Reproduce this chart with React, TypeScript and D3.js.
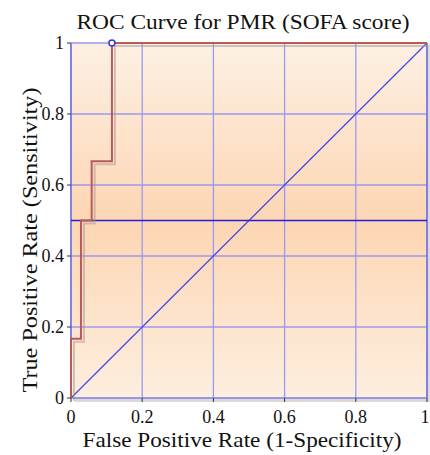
import React from "react";
import * as d3 from "d3";

// ROC curve points (false positive rate, true positive rate)
const fpr = [0, 0, 0.028, 0.028, 0.058, 0.058, 0.115, 0.115, 1];
const tpr = [0, 0.167, 0.167, 0.5, 0.5, 0.667, 0.667, 1, 1];
const cutPoint = [0.115, 1];
const refLine = 0.5;
const ticks = [0, 0.2, 0.4, 0.6, 0.8, 1];

const W = 430;
const H = 455;
const m = { left: 71, right: 3, top: 43, bottom: 57 };

const App = () => {
  const x = d3.scaleLinear().domain([0, 1]).range([m.left, W - m.right]);
  const y = d3.scaleLinear().domain([0, 1]).range([H - m.bottom, m.top]);
  const pts: [number, number][] = fpr.map((v, i) => [v, tpr[i]]);
  const line = d3
    .line<[number, number]>()
    .x((d) => x(d[0]))
    .y((d) => y(d[1]));
  const font = "'Liberation Serif', 'Times New Roman', serif";
  const grid = "#9a9af0";

  return (
    <svg width={W} height={H} style={{ position: "absolute", left: 0, top: 0 }}>
      <defs>
        <linearGradient id="bg" x1="0" y1="0" x2="0" y2="1">
          <stop offset="0" stopColor="#fdf0e4" />
          <stop offset="0.5" stopColor="#fdd6b3" />
          <stop offset="1" stopColor="#fdeedf" />
        </linearGradient>
      </defs>
      <rect width={W} height={H} fill="#fff" />
      {/* shadow of plot */}
      <rect x={x(0) + 4} y={y(1) + 4} width={x(1) - x(0)} height={y(0) - y(1)} fill="#c8c0bc" opacity={0.6} />
      <rect x={x(0)} y={y(1)} width={x(1) - x(0)} height={y(0) - y(1)} fill="url(#bg)" />
      {/* grid */}
      {ticks.map((t) => (
        <g key={t}>
          <line x1={x(t)} x2={x(t)} y1={y(0)} y2={y(1)} stroke={grid} strokeWidth={1.3} />
          <line x1={x(0)} x2={x(1)} y1={y(t)} y2={y(t)} stroke={grid} strokeWidth={1.3} />
        </g>
      ))}
      {/* frame */}
      <line x1={x(0)} x2={x(0)} y1={y(0)} y2={y(1)} stroke="#7070e0" strokeWidth={1.5} />
      <line x1={x(1)} x2={x(1)} y1={y(0)} y2={y(1)} stroke="#7070e0" strokeWidth={1.5} />
      <line x1={x(0)} x2={x(1)} y1={y(0)} y2={y(0)} stroke="#8080e0" strokeWidth={1.2} />
      {/* diagonal and reference line */}
      <line x1={x(0)} y1={y(0)} x2={x(1)} y2={y(1)} stroke="#4a4af0" strokeWidth={1.3} />
      <line x1={x(0)} x2={x(1)} y1={y(refLine)} y2={y(refLine)} stroke="#2020e0" strokeWidth={1.3} />
      {/* roc curve with shadow */}
      <path d={line(pts) ?? ""} fill="none" stroke="#a09890" strokeWidth={2} opacity={0.5} transform="translate(3,3)" />
      <path d={line(pts) ?? ""} fill="none" stroke="#b85a5a" strokeWidth={2} />
      <circle cx={x(cutPoint[0])} cy={y(cutPoint[1])} r={3} fill="#fff" stroke="#3535e0" strokeWidth={1.5} />
      {/* ticks */}
      {ticks.map((t) => (
        <g key={"t" + t} fontFamily={font} fontSize={18} fill="#111">
          <line x1={x(0) - 4} x2={x(0)} y1={y(t)} y2={y(t)} stroke="#333" />
          <text x={x(0) - 7} y={y(t)} dy="0.35em" textAnchor="end">
            {d3.format("~g")(t)}
          </text>
          <line x1={x(t)} x2={x(t)} y1={y(0)} y2={y(0) + 4} stroke="#333" />
          <text x={t === 1 ? x(t) - 2 : x(t)} y={y(0) + 25} textAnchor="middle">
            {d3.format("~g")(t)}
          </text>
        </g>
      ))}
      <text x={243} y={29} textAnchor="middle" fontFamily={font} fontSize={21} fill="#111"
        textLength={333} lengthAdjust="spacingAndGlyphs">
        ROC Curve for PMR (SOFA score)
      </text>
      <text x={242} y={447} textAnchor="middle" fontFamily={font} fontSize={21} fill="#111"
        textLength={319} lengthAdjust="spacingAndGlyphs">
        False Positive Rate (1-Specificity)
      </text>
      <text
        transform={`translate(37,240) rotate(-90)`}
        textAnchor="middle"
        fontFamily={font}
        fontSize={21}
        fill="#111"
        textLength={305}
        lengthAdjust="spacingAndGlyphs"
      >
        True Positive Rate (Sensitivity)
      </text>
    </svg>
  );
};

export default App;
